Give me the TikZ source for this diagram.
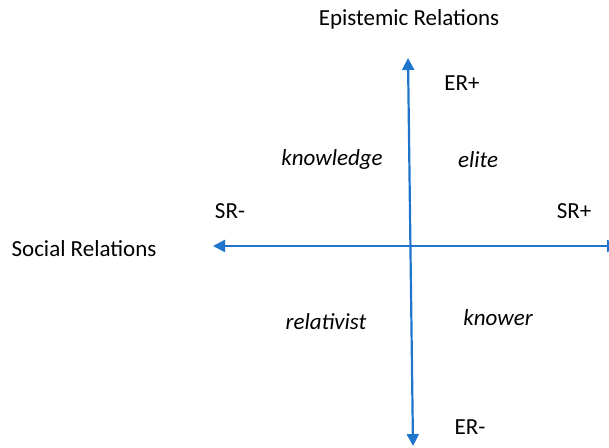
\documentclass[tikz,border=0pt]{standalone}
\usepackage{fontspec}
\setmainfont{Carlito}
\usetikzlibrary{arrows.meta}
\definecolor{axisblue}{RGB}{31,117,204}

\begin{document}
\begin{tikzpicture}[x=1pt,y=-1pt]

\tikzset{
    axislabel/.style={font=\fontsize{23}{27}\selectfont, inner sep=0pt},
    quadrant/.style={font=\fontsize{23}{27}\selectfont\itshape, inner sep=0pt},
    axis/.style={<->, >={Triangle[length=12pt,width=12pt]}, draw=axisblue, line width=2.2pt}
}
% variables
\def\midy{246}

\useasboundingbox (0,0) rectangle (609,447);

% ----------- axis ends ----------- %
\coordinate (ertop) at (408,58);
\coordinate (erbottom) at (413,446);
\coordinate (srleft) at (213,\midy);
\coordinate (srright) at (619,\midy);

% ----------- axis labels ----------- %
\node[axislabel] (epist) at (409,19) {Epistemic Relations};
\node[axislabel] (social) at (84,249) {Social Relations};
\node[axislabel] (erplus) at (462,83) {ER+};
\node[axislabel] (erminus) at (470,427) {ER-};
\node[axislabel] (srminus) at (230,211) {SR-};
\node[axislabel] (srplus) at (574,211) {SR+};

% ----------- quadrants ----------- %
\node[quadrant] (knowledge) at (332,159) {knowledge};
\node[quadrant] (elite) at (478,160) {elite};
\node[quadrant] (relativist) at (326,322) {relativist};
\node[quadrant] (knower) at (498,318) {knower};

% axes
\draw[axis] (srleft) -- (srright);
\draw[axis] (erbottom) -- (ertop);

\end{tikzpicture}
\end{document}
